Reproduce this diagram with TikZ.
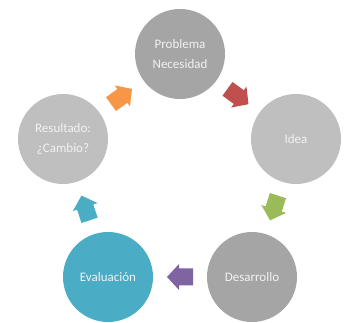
\documentclass[tikz,border=0pt]{standalone}
\usepackage{fontspec}
\setmainfont{Carlito}
\definecolor{grayA}{HTML}{A5A5A5}
\definecolor{grayB}{HTML}{BFBFBF}
\definecolor{tealC}{HTML}{4BACC6}
\definecolor{orangeC}{HTML}{F79646}
\definecolor{redC}{HTML}{C0504D}
\definecolor{greenC}{HTML}{9BBB59}
\definecolor{purpleC}{HTML}{8064A2}
\definecolor{txtC}{HTML}{F2F2F2}
\tikzset{
  stage/.style={circle, minimum size=90pt, inner sep=0pt, text=txtC, align=center,
    font=\fontsize{13}{20}\selectfont},
  blockarrow/.pic={\fill[pic actions] (-13,-8.5) -- (1,-8.5) -- (1,-13) -- (13,0) -- (1,13) -- (1,8.5) -- (-13,8.5) -- cycle;}
}
\begin{document}
\begin{tikzpicture}[x=1pt,y=1pt]
\useasboundingbox (0,0) rectangle (345,323);
\node[stage, fill=grayA] (prob) at (180,269) {Problema\\Necesidad};
\node[stage, fill=grayB] (idea) at (296,184) {Idea};
\node[stage, fill=grayA] (des) at (252,46) {Desarrollo};
\node[stage, fill=tealC] (eva) at (108,46) {Evaluación};
\node[stage, fill=grayB] (res) at (63,184) {Resultado:\\¿Cambio?};
\path (prob.center) -- (idea.center) pic[midway, sloped, allow upside down, fill=redC] {blockarrow};
\path (idea.center) -- (des.center) pic[midway, sloped, allow upside down, fill=greenC] {blockarrow};
\path (des.center) -- (eva.center) pic[midway, sloped, allow upside down, fill=purpleC] {blockarrow};
\path (eva.center) -- (res.center) pic[midway, sloped, allow upside down, fill=tealC] {blockarrow};
\path (res.center) -- (prob.center) pic[midway, sloped, allow upside down, fill=orangeC] {blockarrow};
\end{tikzpicture}
\end{document}
